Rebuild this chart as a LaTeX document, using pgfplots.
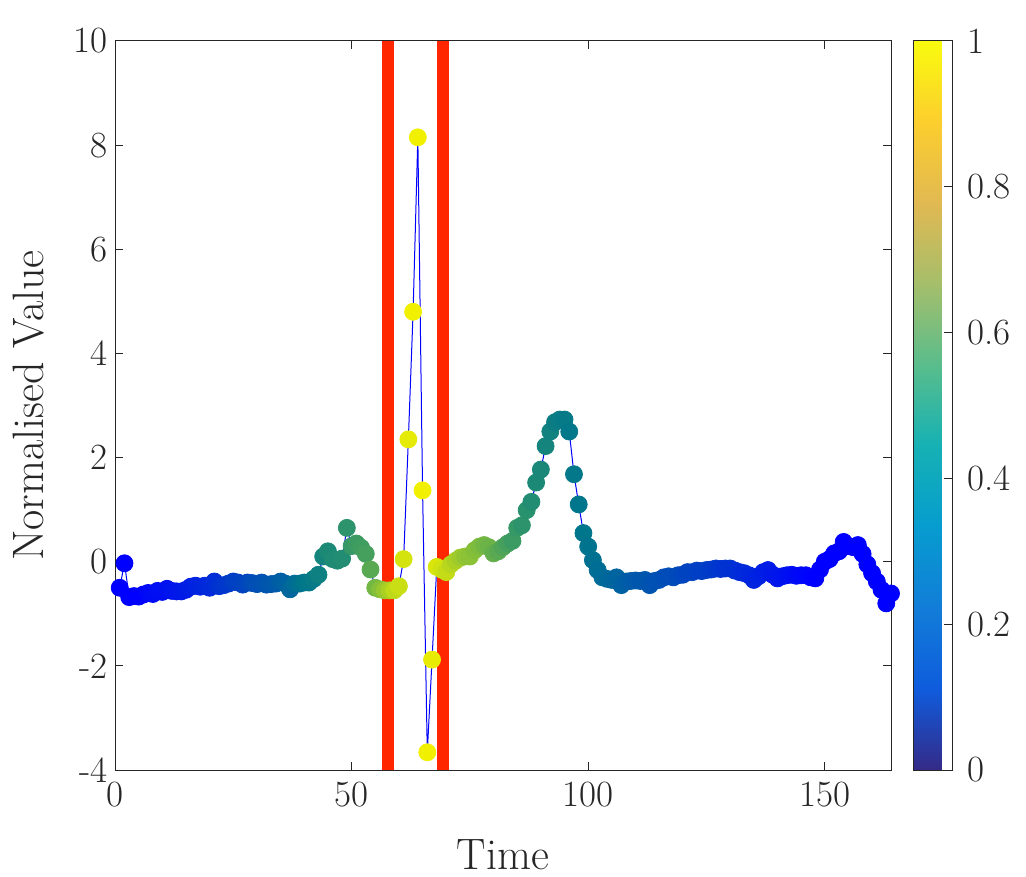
\documentclass[border=0pt]{standalone}
\usepackage{pgfplots}
\usepackage{pgfplotstable}
\pgfplotsset{compat=1.18}
\definecolor{axgray}{RGB}{38,38,38}
\definecolor{barred}{RGB}{255,38,0}
\pgfplotsset{
 colormap={pts}{rgb255=(0,0,255) rgb255=(0,40,220) rgb255=(0,80,180) rgb255=(0,118,140) rgb255=(40,145,110) rgb255=(110,180,70) rgb255=(200,222,20) rgb255=(240,240,0)},
 colormap={parula}{rgb255=(53,42,135) rgb255=(15,92,221) rgb255=(18,125,216) rgb255=(7,156,207) rgb255=(21,177,180) rgb255=(89,189,140) rgb255=(165,190,107) rgb255=(225,185,82) rgb255=(252,206,46) rgb255=(249,251,14)}
}
\pgfplotstableread{
x y c
1 -0.50 0
2 -0.03 0
3 -0.68 0
4 -0.66 0
5 -0.67 0
6 -0.63 0
7 -0.60 0.03
8 -0.62 0.04
9 -0.56 0.05
10 -0.58 0.05
11 -0.52 0.06
12 -0.56 0.07
13 -0.57 0.08
14 -0.57 0.09
15 -0.54 0.10
16 -0.48 0.11
17 -0.46 0.12
18 -0.48 0.13
19 -0.46 0.14
20 -0.50 0.15
21 -0.38 0.16
22 -0.47 0.18
23 -0.45 0.19
24 -0.42 0.20
25 -0.38 0.22
26 -0.40 0.23
27 -0.44 0.24
28 -0.40 0.25
29 -0.41 0.27
30 -0.43 0.28
31 -0.40 0.29
32 -0.44 0.30
33 -0.43 0.31
34 -0.42 0.32
35 -0.38 0.34
36 -0.42 0.35
37 -0.53 0.37
38 -0.42 0.39
39 -0.42 0.41
40 -0.40 0.43
41 -0.40 0.44
42 -0.33 0.45
43 -0.25 0.48
44 0.10 0.50
45 0.20 0.53
46 0.05 0.54
47 0.02 0.54
48 0.06 0.55
49 0.65 0.58
50 0.30 0.60
51 0.35 0.61
52 0.27 0.62
53 0.15 0.63
54 -0.15 0.67
55 -0.50 0.72
56 -0.53 0.75
57 -0.55 0.78
58 -0.55 0.81
59 -0.55 0.84
60 -0.47 0.86
61 0.05 0.90
62 2.35 0.96
63 4.80 1
64 8.15 1
65 1.37 1
66 -3.66 1
67 -1.88 0.97
68 -0.10 0.92
69 -0.15 0.88
70 -0.20 0.85
71 -0.05 0.83
72 0.02 0.81
73 0.08 0.79
74 0.10 0.77
75 0.10 0.76
76 0.22 0.75
77 0.29 0.74
78 0.32 0.72
79 0.28 0.71
80 0.16 0.69
81 0.20 0.67
82 0.28 0.65
83 0.35 0.63
84 0.40 0.61
85 0.65 0.60
86 0.70 0.58
87 0.99 0.57
88 1.15 0.55
89 1.52 0.53
90 1.77 0.52
91 2.22 0.50
92 2.50 0.49
93 2.68 0.47
94 2.73 0.46
95 2.73 0.45
96 2.50 0.44
97 1.68 0.44
98 1.10 0.43
99 0.55 0.43
100 0.29 0.42
101 0.03 0.41
102 -0.16 0.40
103 -0.30 0.39
104 -0.33 0.38
105 -0.35 0.37
106 -0.30 0.36
107 -0.45 0.35
108 -0.38 0.34
109 -0.37 0.33
110 -0.36 0.32
111 -0.37 0.31
112 -0.35 0.31
113 -0.45 0.30
114 -0.37 0.29
115 -0.35 0.29
116 -0.30 0.28
117 -0.28 0.27
118 -0.30 0.27
119 -0.26 0.26
120 -0.25 0.25
121 -0.20 0.24
122 -0.20 0.24
123 -0.17 0.23
124 -0.18 0.22
125 -0.16 0.22
126 -0.15 0.21
127 -0.13 0.20
128 -0.14 0.19
129 -0.13 0.18
130 -0.13 0.18
131 -0.17 0.17
132 -0.20 0.16
133 -0.22 0.15
134 -0.26 0.14
135 -0.35 0.13
136 -0.28 0.12
137 -0.20 0.11
138 -0.16 0.10
139 -0.25 0.09
140 -0.32 0.08
141 -0.28 0.07
142 -0.26 0.06
143 -0.25 0.05
144 -0.27 0.04
145 -0.26 0.03
146 -0.26 0.02
147 -0.30 0.01
148 -0.32 0
149 -0.15 0
150 0.00 0
151 0.05 0
152 0.16 0
153 0.20 0
154 0.38 0
155 0.30 0
156 0.28 0
157 0.32 0
158 0.15 0
159 -0.05 0
160 -0.22 0
161 -0.38 0
162 -0.54 0
163 -0.80 0
164 -0.61 0
}\data

\begin{document}
\begin{tikzpicture}
\begin{axis}[name=main, scale only axis, width=388pt, height=364.5pt,
 xmin=0, xmax=164, ymin=-4, ymax=10,
 xtick={0,50,100,150}, xticklabels={0,50,100,150},
 ytick={-4,-2,0,2,4,6,8,10}, yticklabels={-4,-2,0,2,4,6,8,10},
 tick align=inside, major tick length=4pt,
 axis line style={axgray, line width=0.5pt},
 every tick/.style={axgray, line width=0.5pt},
 ticklabel style={font=\fontsize{18.5}{22}\selectfont, text=axgray},
 xticklabel style={yshift=-2.5pt},
 xlabel={Time}, ylabel={Normalised Value},
 label style={font=\fontsize{22}{26}\selectfont, text=axgray},
 xlabel style={at={(axis description cs:0.5,-0.1166)}, anchor=center},
 ylabel style={at={(axis description cs:-0.112,0.5)}, anchor=center},
 colormap name=parula, point meta min=0, point meta max=1,
 colorbar,
 colorbar style={width=19.5pt, at={(parent axis.north east)}, anchor=north west, xshift=2.5pt,
   ytick={0,0.2,0.4,0.6,0.8,1}, yticklabels={0,0.2,0.4,0.6,0.8,1},
   ytick pos=right, tick align=inside, major tick length=4pt,
   axis line style={axgray, line width=0.5pt},
   every tick/.style={axgray, line width=0.5pt},
   yticklabel style={font=\fontsize{18.5}{22}\selectfont, text=axgray, xshift=4pt}},
 clip=false]
\addplot[blue, line width=0.5pt, no marks] table[x=x,y=y]{\data};
\addplot[scatter, only marks, mark=*, mark size=4.25pt, colormap name=pts, point meta=explicit,
  scatter/use mapped color={draw=mapped color, fill=mapped color}] table[x=x,y=y,meta=c]{\data};
\addplot[barred, line width=6pt, no marks] coordinates {(57.6,-4) (57.6,10)};
\addplot[barred, line width=6pt, no marks] coordinates {(69.4,-4) (69.4,10)};
\end{axis}
\path ([shift={(-57.5pt,-52.5pt)}]main.south west) rectangle ([shift={(67.5pt,20.5pt)}]main.north east);
\end{tikzpicture}
\end{document}
